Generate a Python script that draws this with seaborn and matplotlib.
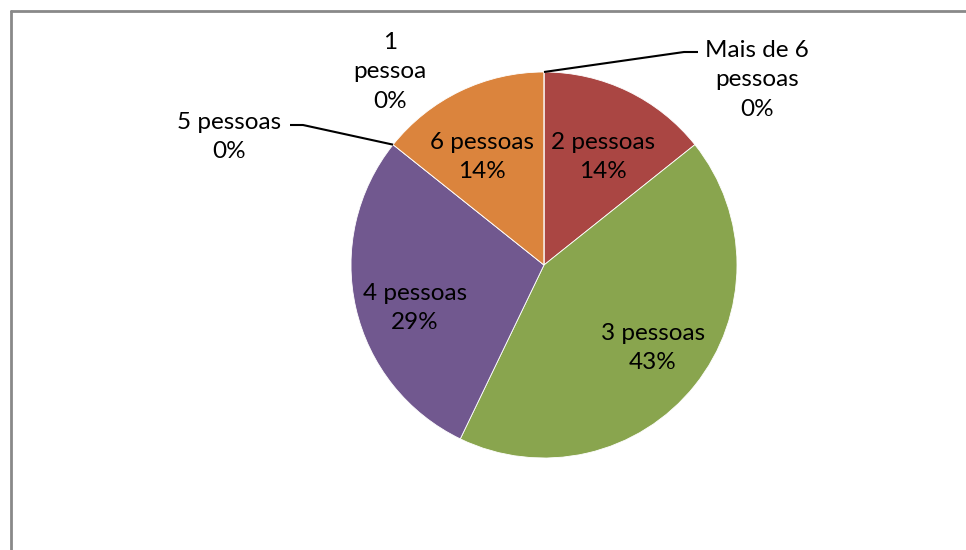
import numpy as np
import matplotlib
matplotlib.use('Agg')
import matplotlib.pyplot as plt
from matplotlib.lines import Line2D
import seaborn as sns

# %% Dados
categorias = ['1 pessoa', '2 pessoas', '3 pessoas', '4 pessoas',
              '5 pessoas', '6 pessoas', 'Mais de 6 pessoas']
quantidade = [0, 1, 3, 2, 0, 1, 0]
cores = ['#4572A7', '#AA4643', '#89A54E', '#71588F',
         '#4198AF', '#DB843D', '#93A9CF']

# rótulos como aparecem no gráfico (quebra de linha manual)
rotulos = ['1\npessoa', '2 pessoas', '3 pessoas', '4 pessoas',
           '5 pessoas', '6 pessoas', 'Mais de 6\npessoas']

# %% Estilo
sns.set_style('white')
plt.rcParams['font.family'] = ['Lato', 'DejaVu Sans']

W, H = 966, 550
fig = plt.figure(figsize=(W / 100, H / 100), dpi=100)
ax = fig.add_axes([0, 0, 1, 1])

centro = (544, H - 265)
raio = 193

wedges, _ = ax.pie(quantidade, colors=cores, startangle=90, counterclock=False,
                   center=centro, radius=raio, frame=True,
                   wedgeprops=dict(edgecolor='white', linewidth=0.6))
ax.set_xlim(0, W)
ax.set_ylim(0, H)
ax.set_aspect('equal')
ax.axis('off')

total = sum(quantidade)
pct = [f'{round(100 * q / total):.0f}%' for q in quantidade]

# posição dos rótulos (pixels da imagem) e ponto de ligação
pos_texto = {
    '1 pessoa': (390, 72, None),
    '2 pessoas': (603, 157, None),
    '3 pessoas': (653, 348, None),
    '4 pessoas': (415, 308, None),
    '5 pessoas': (229, 137, (290, 125)),
    '6 pessoas': (482, 157, None),
    'Mais de 6 pessoas': (757, 80, (698, 52)),
}

for w, cat, rot, p in zip(wedges, categorias, rotulos, pct):
    x, y, cotovelo = pos_texto[cat]
    ax.text(x, H - y, f'{rot}\n{p}', ha='center', va='center',
            fontsize=17.5, linespacing=1.5, color='black')
    if cotovelo is not None:
        ang = np.deg2rad((w.theta1 + w.theta2) / 2)
        px = centro[0] + raio * np.cos(ang)
        py = centro[1] + raio * np.sin(ang)
        cx, cy = cotovelo
        if cx > px:
            xs = [px, cx - 14, cx]
        else:
            xs = [px, cx + 13, cx]
        ys = [py, H - cy, H - cy]
        ax.plot(xs, ys, color='black', linewidth=1.5, solid_capstyle='butt')

# moldura da área do gráfico
def px2fig(x, y):
    return x / W, 1 - y / H

x0, y0 = px2fig(11, 11)
fig.add_artist(Line2D([x0, 1.0], [y0, y0], color='#898989', linewidth=2))
fig.add_artist(Line2D([x0, x0], [y0, 0.0], color='#898989', linewidth=2))

plt.savefig('out.png', dpi=100)
